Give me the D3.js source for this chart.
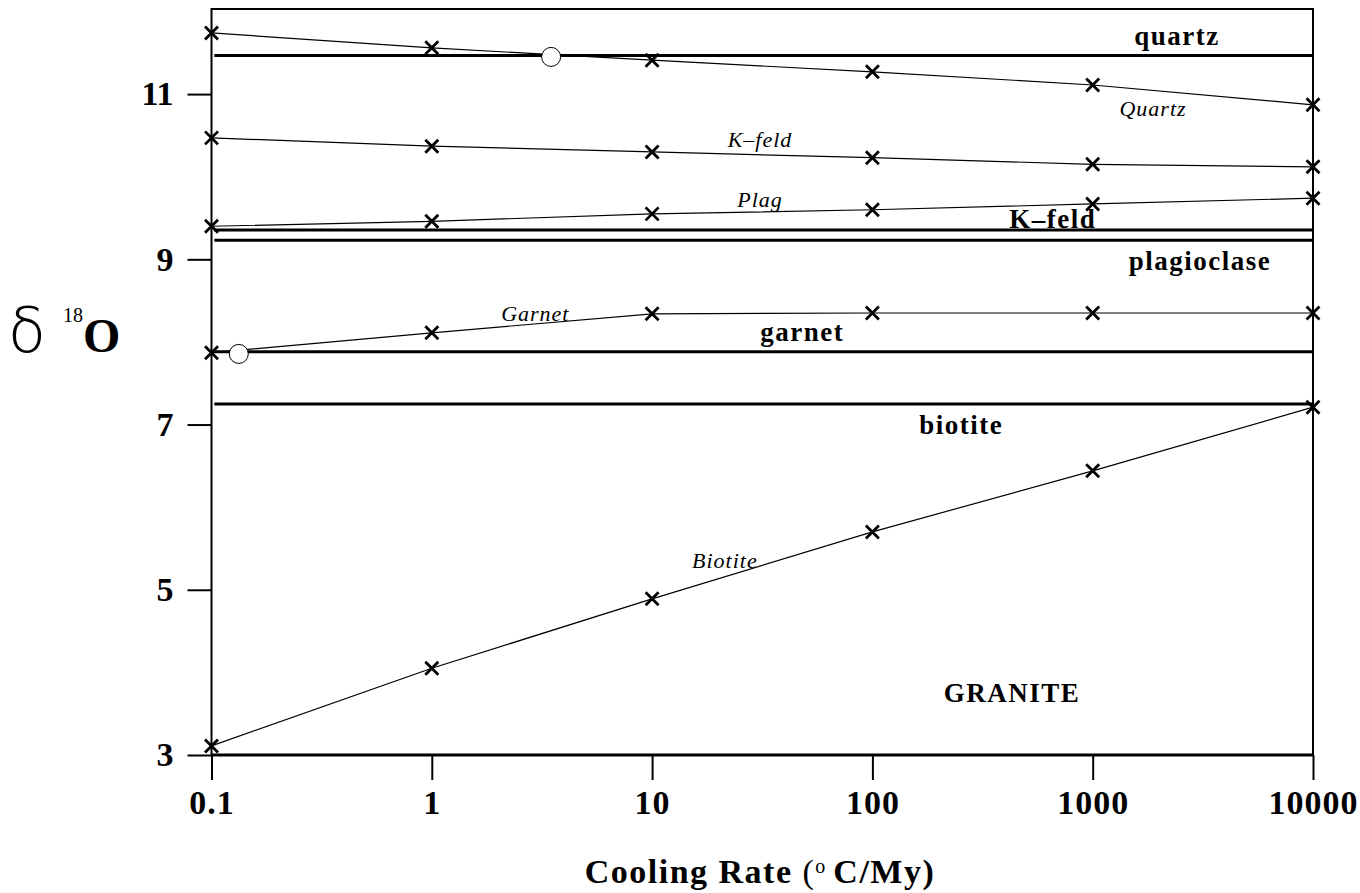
<!DOCTYPE html>
<html>
<head>
<meta charset="utf-8">
<script src="https://cdn.jsdelivr.net/npm/d3@7"></script>
<style>
  body { margin: 0; background: #fff; }
  svg { display: block; }
  .axis text { font-family: "Liberation Serif", serif; font-weight: bold; font-size: 34px; fill: #000; }
  .axis line { stroke: #000; stroke-width: 2; }
  .axis path { display: none; }
</style>
</head>
<body>
<div id="chart"></div>
<script>
// cooling rates (°C/My) where each model was run
const rates = [0.1, 1, 10, 100, 1000, 10000];

// modelled d18O of each mineral vs cooling rate
const quartz  = [11.74, 11.56, 11.41, 11.27, 11.11, 10.87];
const kfeld   = [10.47, 10.37, 10.30, 10.23, 10.15, 10.12];
const plag    = [9.40, 9.46, 9.55, 9.60, 9.67, 9.74];
const garnet  = [7.87, 8.11, 8.34, 8.35, 8.35, 8.35];
const biotite = [3.11, 4.05, 4.89, 5.70, 6.44, 7.21];

// measured values (horizontal lines)
const refNames  = ["quartz", "K-feld", "plagioclase", "garnet", "biotite"];
const refValues = [11.466, 9.356, 9.23, 7.88, 7.25];

// open circles
const circleX = [3.48, 0.133];
const circleY = [11.45, 7.855];

// axis ticks
const xTicks = [0.1, 1, 10, 100, 1000, 10000];
const yTicks = [3, 5, 7, 9, 11];

// labels: text, x (rate), y (d18O), style
const labelText  = ["quartz", "Quartz", "K\u2013feld", "Plag", "K\u2013feld", "plagioclase", "Garnet", "garnet", "biotite", "Biotite", "GRANITE"];
const labelX     = [2415, 1879, 30.9, 30.9, 659, 3069, 2.95, 48, 253, 21.4, 430];
const labelY     = [11.60, 10.74, 10.36, 9.63, 9.38, 8.87, 8.25, 8.01, 6.89, 5.26, 3.64];
const labelBold  = [true, false, false, false, true, true, false, true, true, false, true];

const width = 1360, height = 893;

const x = d3.scaleLog().domain([0.1, 10000]).range([211.5, 1313]);
const y = d3.scaleLinear().domain([3, 12.03]).range([755, 9]);

const svg = d3.select("#chart").append("svg")
    .attr("width", width)
    .attr("height", height);

// axes
svg.append("g")
    .attr("class", "axis")
    .attr("transform", `translate(0,${y(3)})`)
    .call(d3.axisBottom(x).tickValues(xTicks).tickFormat(d => String(d)).tickSizeInner(25).tickSizeOuter(0).tickPadding(10))
    .selectAll("text").attr("letter-spacing", "1px");

svg.append("g")
    .attr("class", "axis")
    .attr("transform", `translate(${x(0.1)},0)`)
    .call(d3.axisLeft(y).tickValues(yTicks).tickSizeInner(24).tickSizeOuter(0).tickPadding(14));

// frame
svg.append("rect")
    .attr("x", x(0.1))
    .attr("y", y(12.03))
    .attr("width", x(10000) - x(0.1))
    .attr("height", y(3) - y(12.03))
    .attr("fill", "none")
    .attr("stroke", "#000")
    .attr("stroke-width", 2);
svg.append("line")
    .attr("x1", x(0.1)).attr("x2", x(10000))
    .attr("y1", y(3)).attr("y2", y(3))
    .attr("stroke", "#000").attr("stroke-width", 3);

// measured mineral lines
svg.selectAll(".ref")
    .data(refValues)
    .enter().append("line")
    .attr("class", "ref")
    .attr("x1", x(0.103)).attr("x2", x(10000))
    .attr("y1", d => y(d)).attr("y2", d => y(d))
    .attr("stroke", "#000")
    .attr("stroke-width", 3);

// model curves
const series = [quartz, kfeld, plag, garnet, biotite];
const line = d3.line()
    .x((d, i) => x(rates[i]))
    .y(d => y(d));

svg.selectAll(".curve")
    .data(series)
    .enter().append("path")
    .attr("class", "curve")
    .attr("d", line)
    .attr("fill", "none")
    .attr("stroke", "#000")
    .attr("stroke-width", 1.2);

const marker = d3.symbol(d3.symbolX, 112);
series.forEach(s => {
    svg.append("g").selectAll("path")
        .data(s)
        .enter().append("path")
        .attr("d", marker)
        .attr("transform", (d, i) => `translate(${x(rates[i])},${y(d)})`)
        .attr("fill", "none")
        .attr("stroke", "#000")
        .attr("stroke-width", 2.8);
});

// open circles
svg.selectAll(".open")
    .data(circleX)
    .enter().append("circle")
    .attr("class", "open")
    .attr("cx", d => x(d))
    .attr("cy", (d, i) => y(circleY[i]))
    .attr("r", 9.5)
    .attr("fill", "#fff")
    .attr("stroke", "#000")
    .attr("stroke-width", 1);

// labels
svg.selectAll(".lbl")
    .data(labelText)
    .enter().append("text")
    .attr("class", "lbl")
    .attr("x", (d, i) => x(labelX[i]))
    .attr("y", (d, i) => y(labelY[i]))
    .attr("text-anchor", "middle")
    .attr("font-family", "'Liberation Serif', serif")
    .attr("font-weight", (d, i) => labelBold[i] ? "bold" : "normal")
    .attr("font-style", (d, i) => labelBold[i] ? "normal" : "italic")
    .attr("font-size", (d, i) => labelBold[i] ? 27 : 22)
    .attr("letter-spacing", (d, i) => labelBold[i] ? "1.5px" : "1px")
    .text(d => d);

// x axis title
const xt = svg.append("text")
    .attr("x", 760)
    .attr("y", 883)
    .attr("text-anchor", "middle")
    .attr("font-family", "'Liberation Serif', serif")
    .attr("font-size", 34)
    .attr("letter-spacing", "1.5px");
xt.append("tspan").attr("font-weight", "bold").text("Cooling Rate ");
xt.append("tspan").text("(");
xt.append("tspan").attr("font-size", 20).attr("dy", -10).text("o ");
xt.append("tspan").attr("dy", 10).attr("font-weight", "bold").text("C/My)");

// y axis title
const yt = svg.append("text")
    .attr("x", 8)
    .attr("y", 352)
    .attr("fill", "#000");
yt.append("tspan")
    .attr("font-family", "'DejaVu Sans ExtraLight', 'DejaVu Sans', sans-serif")
    .attr("font-weight", 200)
    .attr("font-size", 62)
    .text("\u03B4");
yt.append("tspan")
    .attr("x", 63)
    .attr("dy", -30)
    .attr("font-family", "'Liberation Serif', serif")
    .attr("font-size", 20)
    .text("18");
yt.append("tspan")
    .attr("dy", 30)
    .attr("font-family", "'Liberation Serif', serif")
    .attr("font-weight", "bold")
    .attr("font-size", 48)
    .text("O");
</script>
</body>
</html>
